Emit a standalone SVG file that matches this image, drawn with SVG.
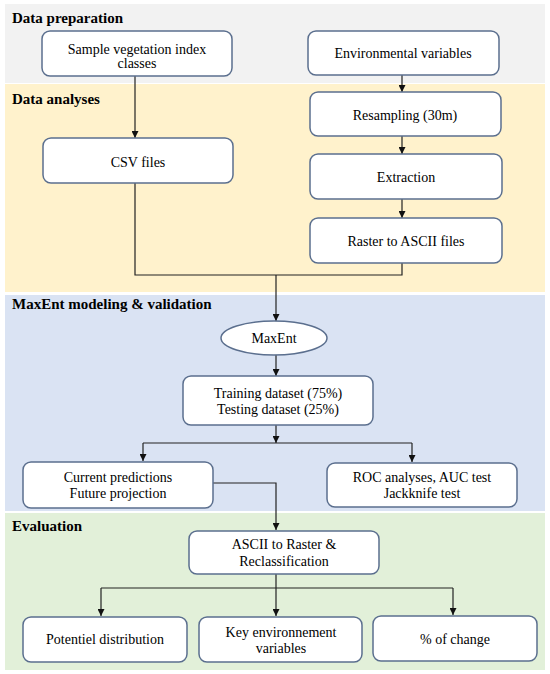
<svg xmlns="http://www.w3.org/2000/svg" width="550" height="674" viewBox="0 0 550 674">
<defs>
<style>
.hdr{font-family:'Liberation Serif','Times New Roman','DejaVu Serif',serif;font-weight:bold;font-size:15px;fill:#000}
.txt{font-family:'Liberation Serif','Times New Roman','DejaVu Serif',serif;font-size:14px;fill:#000;text-anchor:middle}
.box{fill:#fff;stroke:#5b6f8e;stroke-width:1.5}
.ln{fill:none;stroke:#222;stroke-width:1.2}
.ar{fill:none;stroke:#222;stroke-width:1.2;marker-end:url(#ah)}
</style>
<marker id="ah" viewBox="0 0 10 10" refX="10" refY="5" markerWidth="7" markerHeight="7" markerUnits="userSpaceOnUse" orient="auto">
<path d="M0,0 L10,5 L0,10 z" fill="#111"/>
</marker>
</defs>
<rect width="550" height="674" fill="#fff"/>
<g id="bands">
<rect x="5" y="4" width="540" height="79" fill="#f2f2f2"/>
<rect x="5" y="84" width="540" height="208" fill="#fff2cc"/>
<rect x="5" y="295" width="540" height="216" fill="#dae3f3"/>
<rect x="5" y="513" width="540" height="157" fill="#e2f0d9"/>
<text class="hdr" x="12" y="23">Data preparation</text>
<text class="hdr" x="12" y="104">Data analyses</text>
<text class="hdr" x="12" y="309">MaxEnt modeling &amp; validation</text>
<text class="hdr" x="12" y="531">Evaluation</text>
</g>
<g id="connectors">
<line class="ar" x1="135" y1="76" x2="135" y2="138"/>
<line class="ar" x1="402" y1="75" x2="402" y2="92"/>
<line class="ar" x1="402" y1="136" x2="402" y2="154"/>
<line class="ar" x1="402" y1="199" x2="402" y2="218"/>
<polyline class="ln" points="135,183 135,275 402,275 402,263"/>
<line class="ar" x1="276" y1="275" x2="276" y2="321"/>
<line class="ar" x1="276" y1="355" x2="276" y2="376"/>
<line class="ar" x1="276" y1="425" x2="276" y2="443"/>
<polyline class="ln" points="143,443 412,443"/>
<line class="ar" x1="143" y1="443" x2="143" y2="461"/>
<line class="ar" x1="412" y1="443" x2="412" y2="462"/>
<polyline class="ar" points="213,483 276,483 276,530"/>
<line class="ln" x1="276" y1="574" x2="276" y2="588"/>
<polyline class="ln" points="101,588 453,588"/>
<line class="ar" x1="101" y1="588" x2="101" y2="616"/>
<line class="ar" x1="276" y1="588" x2="276" y2="616"/>
<line class="ar" x1="453" y1="588" x2="453" y2="615"/>
</g>
<g id="n-sample">
<rect class="box" x="42" y="31" width="190" height="45" rx="8"/>
<text class="txt" x="137" y="54">Sample vegetation index</text>
<text class="txt" x="137" y="68">classes</text>
</g>
<g id="n-env">
<rect class="box" x="308" y="31" width="191" height="44" rx="8"/>
<text class="txt" x="403" y="58">Environmental variables</text>
</g>
<g id="n-resample">
<rect class="box" x="310" y="92" width="191" height="44" rx="8"/>
<text class="txt" x="405" y="120">Resampling (30m)</text>
</g>
<g id="n-csv">
<rect class="box" x="43" y="138" width="190" height="45" rx="8"/>
<text class="txt" x="138" y="167">CSV files</text>
</g>
<g id="n-extract">
<rect class="box" x="310" y="154" width="192" height="45" rx="8"/>
<text class="txt" x="406" y="182">Extraction</text>
</g>
<g id="n-raster">
<rect class="box" x="310" y="218" width="192" height="45" rx="8"/>
<text class="txt" x="406" y="246">Raster to ASCII files</text>
</g>
<g id="n-maxent">
<ellipse class="box" cx="274" cy="338" rx="53" ry="17"/>
<text class="txt" x="274" y="343">MaxEnt</text>
</g>
<g id="n-train">
<rect class="box" x="183" y="376" width="190" height="49" rx="8"/>
<text class="txt" x="278" y="398">Training dataset (75%)</text>
<text class="txt" x="278" y="414">Testing dataset (25%)</text>
</g>
<g id="n-current">
<rect class="box" x="23" y="462" width="190" height="46" rx="8"/>
<text class="txt" x="118" y="482">Current predictions</text>
<text class="txt" x="118" y="498">Future projection</text>
</g>
<g id="n-roc">
<rect class="box" x="327" y="463" width="190" height="44" rx="8"/>
<text class="txt" x="422" y="482">ROC analyses, AUC test</text>
<text class="txt" x="422" y="498">Jackknife test</text>
</g>
<g id="n-ascii">
<rect class="box" x="189" y="531" width="190" height="43" rx="8"/>
<text class="txt" x="284" y="549">ASCII to Raster &amp;</text>
<text class="txt" x="284" y="566">Reclassification</text>
</g>
<g id="n-potential">
<rect class="box" x="23" y="617" width="164" height="45" rx="8"/>
<text class="txt" x="105" y="644">Potentiel distribution</text>
</g>
<g id="n-key">
<rect class="box" x="199" y="617" width="163" height="45" rx="8"/>
<text class="txt" x="281" y="637">Key environnement</text>
<text class="txt" x="281" y="653">variables</text>
</g>
<g id="n-change">
<rect class="box" x="373" y="616" width="164" height="45" rx="8"/>
<text class="txt" x="455" y="644">% of change</text>
</g>
</svg>
